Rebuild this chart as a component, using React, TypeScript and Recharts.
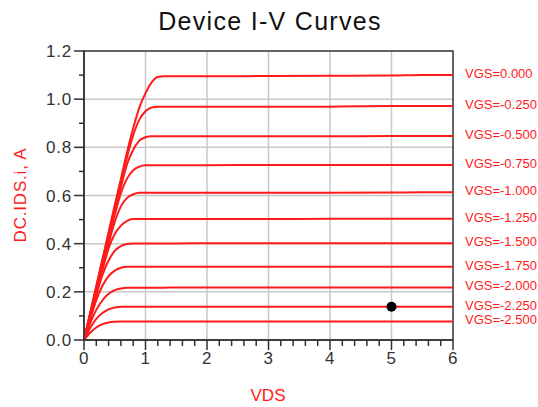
import { CartesianGrid, Line, LineChart, ReferenceArea, ReferenceDot, XAxis, YAxis } from "recharts";

// sweep points along VDS (V)
const vds = [0, 0.1, 0.2, 0.3, 0.4, 0.5, 0.6, 0.7, 0.8, 0.9, 1.0, 1.1, 1.2, 1.3, 1.5, 2, 3, 4, 5, 5.5, 6];

// gate voltages, top curve first
const vgs = [0, -0.25, -0.5, -0.75, -1.0, -1.25, -1.5, -1.75, -2.0, -2.25, -2.5];

// IDS (A) for each VGS
const ids0 = [0, 0.112, 0.224, 0.336, 0.448, 0.56, 0.67, 0.78, 0.88, 0.965, 1.025, 1.07, 1.092, 1.095, 1.095, 1.095, 1.096, 1.097, 1.098, 1.1, 1.1];
const ids025 = [0, 0.11, 0.22, 0.33, 0.44, 0.55, 0.655, 0.76, 0.85, 0.915, 0.95, 0.965, 0.968, 0.968, 0.968, 0.968, 0.968, 0.969, 0.972, 0.972, 0.972];
const ids050 = [0, 0.108, 0.216, 0.324, 0.43, 0.535, 0.635, 0.73, 0.79, 0.828, 0.842, 0.846, 0.846, 0.846, 0.846, 0.846, 0.846, 0.846, 0.847, 0.847, 0.847];
const ids075 = [0, 0.105, 0.21, 0.315, 0.42, 0.52, 0.61, 0.67, 0.705, 0.72, 0.726, 0.726, 0.726, 0.726, 0.726, 0.726, 0.727, 0.727, 0.727, 0.727, 0.727];
const ids100 = [0, 0.1, 0.2, 0.3, 0.4, 0.49, 0.555, 0.59, 0.605, 0.611, 0.611, 0.611, 0.611, 0.611, 0.611, 0.611, 0.611, 0.611, 0.612, 0.613, 0.613];
const ids125 = [0, 0.097, 0.194, 0.29, 0.38, 0.44, 0.475, 0.495, 0.502, 0.502, 0.502, 0.502, 0.502, 0.502, 0.502, 0.502, 0.502, 0.503, 0.503, 0.503, 0.503];
const ids150 = [0, 0.093, 0.185, 0.27, 0.33, 0.37, 0.39, 0.399, 0.401, 0.401, 0.401, 0.401, 0.401, 0.401, 0.401, 0.402, 0.402, 0.402, 0.402, 0.402, 0.402];
const ids175 = [0, 0.085, 0.165, 0.225, 0.265, 0.288, 0.3, 0.304, 0.304, 0.304, 0.304, 0.304, 0.304, 0.304, 0.304, 0.304, 0.304, 0.304, 0.304, 0.304, 0.304];
const ids200 = [0, 0.07, 0.125, 0.165, 0.192, 0.207, 0.214, 0.217, 0.217, 0.217, 0.217, 0.217, 0.217, 0.217, 0.218, 0.218, 0.218, 0.218, 0.218, 0.218, 0.218];
const ids225 = [0, 0.05, 0.088, 0.112, 0.127, 0.135, 0.138, 0.138, 0.138, 0.138, 0.138, 0.138, 0.138, 0.138, 0.138, 0.138, 0.138, 0.138, 0.138, 0.138, 0.138];
const ids250 = [0, 0.03, 0.052, 0.066, 0.073, 0.076, 0.077, 0.077, 0.077, 0.077, 0.077, 0.077, 0.077, 0.077, 0.077, 0.077, 0.077, 0.077, 0.077, 0.077, 0.077];

const curves = [ids0, ids025, ids050, ids075, ids100, ids125, ids150, ids175, ids200, ids225, ids250];

// marker on the VGS=-2.250 curve
const markerVds = 5;
const markerIds = 0.138;

const xTicks = [0, 0.2, 0.4, 0.6, 0.8, 1, 1.2, 1.4, 1.6, 1.8, 2, 2.2, 2.4, 2.6, 2.8, 3, 3.2, 3.4, 3.6, 3.8, 4, 4.2, 4.4, 4.6, 4.8, 5, 5.2, 5.4, 5.6, 5.8, 6];
const yTicks = [0, 0.1, 0.2, 0.3, 0.4, 0.5, 0.6, 0.7, 0.8, 0.9, 1.0, 1.1, 1.2];
const xGrid = [1, 2, 3, 4, 5];
const yGrid = [0.2, 0.4, 0.6, 0.8, 1.0];

const RED = "#ff1a1a";
const AXIS = "#333";
const FONT = "'Liberation Sans', Arial, sans-serif";

const data = vds.map((v, i) => {
  const row: Record<string, number> = { vds: v };
  curves.forEach((c, k) => {
    row[`c${k}`] = c[i];
  });
  return row;
});

function XTick({ x, y, payload, index }: any) {
  const major = index % 5 === 0;
  return (
    <g>
      <line x1={x} x2={x} y1={y} y2={y + (major ? 10 : 6)} stroke={AXIS} strokeWidth={1.5} />
      {major && (
        <text x={x} y={y + 24} textAnchor="middle" fontSize={17} letterSpacing={0.5} fill={AXIS} fontFamily={FONT}>
          {payload.value}
        </text>
      )}
    </g>
  );
}

function YTick({ x, y, payload, index }: any) {
  const major = index % 2 === 0;
  return (
    <g>
      <line x1={x} x2={x - (major ? 10 : 5)} y1={y} y2={y} stroke={AXIS} strokeWidth={1.5} />
      {major && (
        <text x={x - 12} y={y + 6} textAnchor="end" fontSize={17} letterSpacing={0.8} fill={AXIS} fontFamily={FONT}>
          {Number(payload.value).toFixed(1)}
        </text>
      )}
    </g>
  );
}

function endLabel(gate: number) {
  return (props: any) => {
    if (props.index !== vds.length - 1) return null;
    return (
      <text x={props.x + 12} y={props.y + 3} fontSize={13} fill={RED} fontFamily={FONT}>
        {`VGS=${gate.toFixed(3)}`}
      </text>
    );
  };
}

export default function App() {
  return (
    <div style={{ position: "absolute", left: 0, top: 0, width: 538, height: 407, background: "#fff" }}>
      <LineChart width={538} height={407} data={data} margin={{ top: 51, right: 85, bottom: 66, left: 83 }}>
        <CartesianGrid stroke="#c8c8c8" strokeWidth={1.5} verticalValues={xGrid} horizontalValues={yGrid} />
        <XAxis
          dataKey="vds"
          type="number"
          domain={[0, 6]}
          ticks={xTicks}
          height={1}
          tickSize={0}
          tickMargin={0}
          tickLine={false}
          tick={<XTick />}
          stroke={AXIS}
          strokeWidth={1.5}
          interval={0}
          allowDataOverflow
        />
        <YAxis
          type="number"
          domain={[0, 1.2]}
          ticks={yTicks}
          width={1}
          tickSize={0}
          tickMargin={0}
          tickLine={false}
          tick={<YTick />}
          stroke={AXIS}
          strokeWidth={1.5}
          interval={0}
          allowDataOverflow
        />
        {vgs.map((g, k) => (
          <Line
            key={g}
            type="monotone"
            dataKey={`c${k}`}
            stroke={RED}
            strokeWidth={2}
            dot={false}
            label={endLabel(g)}
            isAnimationActive={false}
          />
        ))}
        <ReferenceArea x1={0} x2={6} y1={0} y2={1.2} fill="none" stroke={AXIS} strokeWidth={1.5} />
        <ReferenceDot x={markerVds} y={markerIds} r={5} fill="#000" stroke="none" />
      </LineChart>
      <svg width={538} height={407} style={{ position: "absolute", left: 0, top: 0, pointerEvents: "none" }}>
        <text x={270} y={30} textAnchor="middle" fontSize={25} letterSpacing={1.3} fill="#111" fontFamily={FONT}>
          Device I-V Curves
        </text>
        <text x={268} y={401} textAnchor="middle" fontSize={17} fill={RED} fontFamily={FONT}>
          VDS
        </text>
        <text
          x={26}
          y={195}
          textAnchor="middle"
          fontSize={17}
          letterSpacing={0.8}
          fill={RED}
          fontFamily={FONT}
          transform="rotate(-90 26 195)"
        >
          DC.IDS.i, A
        </text>
      </svg>
    </div>
  );
}
